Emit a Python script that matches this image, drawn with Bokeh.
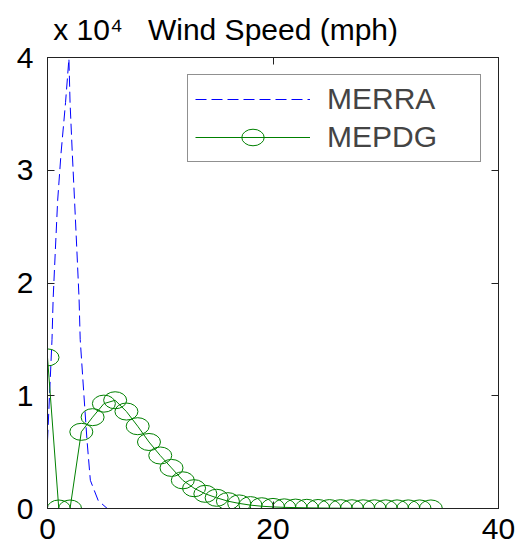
from bokeh.plotting import figure
from bokeh.models import (Range1d, LinearAxis, FixedTicker, CustomJSTickFormatter,
                          Legend, LegendItem, ColumnDataSource)
from bokeh.embed import file_html
from bokeh.resources import INLINE

# ---- data ----
merra_x = [0, 0.4, 0.5, 0.7, 0.9, 1.2, 1.6, 1.9, 2.0, 2.2, 2.4, 2.6, 2.8, 2.9,
           3.2, 3.5, 3.8, 4.5, 5.3]
merra_y = [6000, 15000, 18600, 23000, 27300, 31500, 36000, 39900, 36000, 31500,
           27300, 23000, 18600, 15000, 10500, 6100, 2500, 700, 0]

mepdg_x = list(range(35))
mepdg_y = [13400, 0, 0, 6800, 8100, 9300, 9600, 8600, 7300, 5900,
           4700, 3600, 2500, 1800, 1300, 950, 650, 450, 300, 200,
           140, 100, 80, 60, 45, 35, 28, 22, 18, 14,
           11, 9, 7, 5, 4]

x_ticks = [0, 20, 40]
y_ticks = [0, 10000, 20000, 30000, 40000]
title_text = "Wind Speed (mph)"
exp_text = "x 10\u2074"
series_names = ["MERRA", "MEPDG"]

# layout constants (where the header texts sit along the top edge)
EXP_POS = 3.6
TITLE_POS = 20

FONT = "Liberation Sans"
GREEN = "#008000"
BLUE = "#0000ff"
EDGE = "#222222"

p = figure(width=521, height=552, x_range=Range1d(0, 40), y_range=Range1d(0, 40000),
           output_backend="svg", toolbar_location=None,
           min_border_left=47, min_border_right=23, min_border_top=57, min_border_bottom=44,
           background_fill_color="white", border_fill_color="white")
p.xgrid.visible = False
p.ygrid.visible = False
p.outline_line_color = EDGE
p.outline_line_width = 1

for ax in (p.xaxis[0], p.yaxis[0]):
    ax.major_tick_in = 7
    ax.major_tick_out = 0
    ax.minor_tick_line_color = None
    ax.axis_line_color = EDGE
    ax.major_tick_line_color = EDGE
    ax.major_label_text_font = FONT
    ax.major_label_text_font_size = "30px"
    ax.major_label_text_color = "black"

p.xaxis[0].ticker = FixedTicker(ticks=x_ticks)
p.xaxis[0].major_label_standoff = 10
p.yaxis[0].ticker = FixedTicker(ticks=y_ticks)
p.yaxis[0].major_label_standoff = 14
p.yaxis[0].formatter = CustomJSTickFormatter(code="return (tick/10000).toFixed(0)")

right_ax = LinearAxis(ticker=FixedTicker(ticks=y_ticks),
                      formatter=CustomJSTickFormatter(code="return ''"),
                      major_label_text_font_size="1px", major_label_standoff=0,
                      major_tick_in=7, major_tick_out=0, minor_tick_line_color=None,
                      axis_line_color=EDGE, major_tick_line_color=EDGE)
p.add_layout(right_ax, "right")

top_ax = LinearAxis(ticker=FixedTicker(ticks=x_ticks),
                    formatter=CustomJSTickFormatter(code="return ''"),
                    major_label_text_font_size="1px", major_label_standoff=0,
                    major_tick_in=7, major_tick_out=0, minor_tick_line_color=None,
                    axis_line_color=EDGE, major_tick_line_color=EDGE)
p.add_layout(top_ax, "above")

# header texts (title and axis multiplier) carried by an undecorated top axis
head_ax = LinearAxis(ticker=FixedTicker(ticks=[EXP_POS, TITLE_POS]),
                     major_label_overrides={EXP_POS: exp_text, TITLE_POS: title_text},
                     major_tick_in=0, major_tick_out=0, major_tick_line_color=None,
                     minor_tick_line_color=None, axis_line_color=None,
                     major_label_standoff=12, major_label_text_font=FONT,
                     major_label_text_font_size="30px", major_label_text_color="black")
p.add_layout(head_ax, "above")

src_merra = ColumnDataSource(dict(x=merra_x, y=merra_y))
src_mepdg = ColumnDataSource(dict(x=mepdg_x, y=mepdg_y))

r_merra = p.line("x", "y", source=src_merra, line_color=BLUE, line_width=1,
                 line_dash="11 5")
r_mline = p.line("x", "y", source=src_mepdg, line_color=GREEN, line_width=1)
r_mell = p.ellipse("x", "y", source=src_mepdg, width=23, height=17,
                   width_units="screen", height_units="screen",
                   fill_color=None, line_color=GREEN, line_width=1)

legend = Legend(items=[LegendItem(label=series_names[0], renderers=[r_merra]),
                       LegendItem(label=series_names[1], renderers=[r_mline, r_mell])],
                location=(140, 346), orientation="vertical",
                border_line_color=EDGE, border_line_width=1,
                background_fill_color="white", background_fill_alpha=1,
                label_text_font=FONT, label_text_font_size="30px",
                padding=7, spacing=4, margin=0,
                glyph_width=115, glyph_height=28, label_standoff=17,
                label_width=146, label_height=28)
p.add_layout(legend, "center")

open("out.html", "w").write(file_html(p, INLINE))
